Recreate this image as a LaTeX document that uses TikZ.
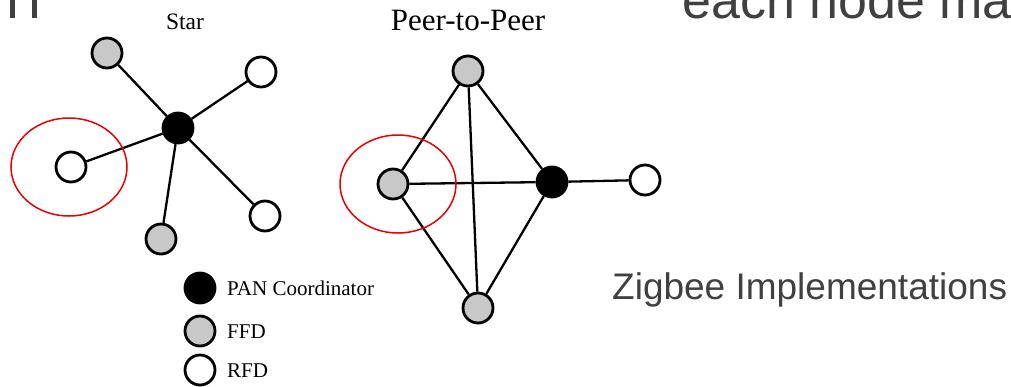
\documentclass[tikz,border=0pt]{standalone}
\usepackage{fontspec}
\usepackage{graphicx}
\setmainfont{Liberation Serif}
\newfontfamily\slidefont{Liberation Sans}
\usetikzlibrary{shapes.geometric}
\definecolor{slidegray}{HTML}{404040}
\definecolor{ffdgray}{HTML}{C8C8C8}
\definecolor{ringred}{RGB}{235,0,0}
\begin{document}
\begin{tikzpicture}[x=1pt,y=-1pt,
  dev/.style={circle, draw=black, line width=2.8pt, minimum size=30pt, inner sep=0pt},
  pan/.style={dev, fill=black},
  ffd/.style={dev, fill=ffdgray},
  rfd/.style={dev, fill=white},
  link/.style={line width=2.3pt},
  ring/.style={ellipse, draw=ringred, line width=1.5pt, inner sep=0pt, minimum width=116pt, minimum height=98pt},
  title/.style={inner sep=0pt, text=black},
  legtext/.style={anchor=base west, inner sep=0pt, font=\fontsize{21}{21}\selectfont},
  slide/.style={inner sep=0pt, text=slidegray, anchor=base west}]
\useasboundingbox (0,0) rectangle (1011,386);
\fill[white] (0,0) rectangle (1011,386);

% slide text fragments
\fill[slidegray] (9.5,0) rectangle (14.5,18);
\fill[slidegray] (32,0) rectangle (37,18);
\node[slide, font=\slidefont\fontsize{52}{52}\selectfont] (bodytext) at (682,18) {each node ma};
\node[slide, font=\slidefont\fontsize{37}{37}\selectfont] (caption) at (612,299) {Zigbee Implementations};

% Star
\node[title, font=\fontsize{23.5}{23.5}\selectfont] (startitle) at (185,22) {Star};
\node[pan] (s0) at (178,128) {};
\node[ffd] (s1) at (107,53) {};
\node[rfd] (s2) at (261,72) {};
\node[rfd] (s3) at (71,167) {};
\node[ffd] (s4) at (161,239) {};
\node[rfd] (s5) at (265,216) {};
\foreach \n in {s1,s2,s3,s4,s5} \draw[link] (s0) -- (\n);

% Peer-to-Peer
\node[title, font=\fontsize{31}{31}\selectfont] (p2ptitle) at (468,21) {Peer-to-Peer};
\node[ffd] (p1) at (468,71) {};
\node[ffd] (p2) at (393,184) {};
\node[pan] (p3) at (552,182) {};
\node[rfd] (p4) at (645,180) {};
\node[ffd] (p5) at (478,308) {};
\draw[link] (p1) -- (p2);
\draw[link] (p1) -- (p3);
\draw[link] (p1) -- (p5);
\draw[link] (p2) -- (p3);
\draw[link] (p2) -- (p5);
\draw[link] (p3) -- (p5);
\draw[link] (p3) -- (p4);

% Legend
\node[pan] (lpan) at (200,288) {};
\node[ffd] (lffd) at (200,331) {};
\node[rfd] (lrfd) at (200,370) {};
\node[legtext] (tpan) at (227,295) {PAN Coordinator};
\node[legtext] (tffd) at (227,338) {FFD};
\node[legtext] (trfd) at (227,377) {RFD};

% highlight rings
\node[ring] (hl1) at (69,167) {};
\node[ring] (hl2) at (398,184) {};
\end{tikzpicture}
\end{document}
